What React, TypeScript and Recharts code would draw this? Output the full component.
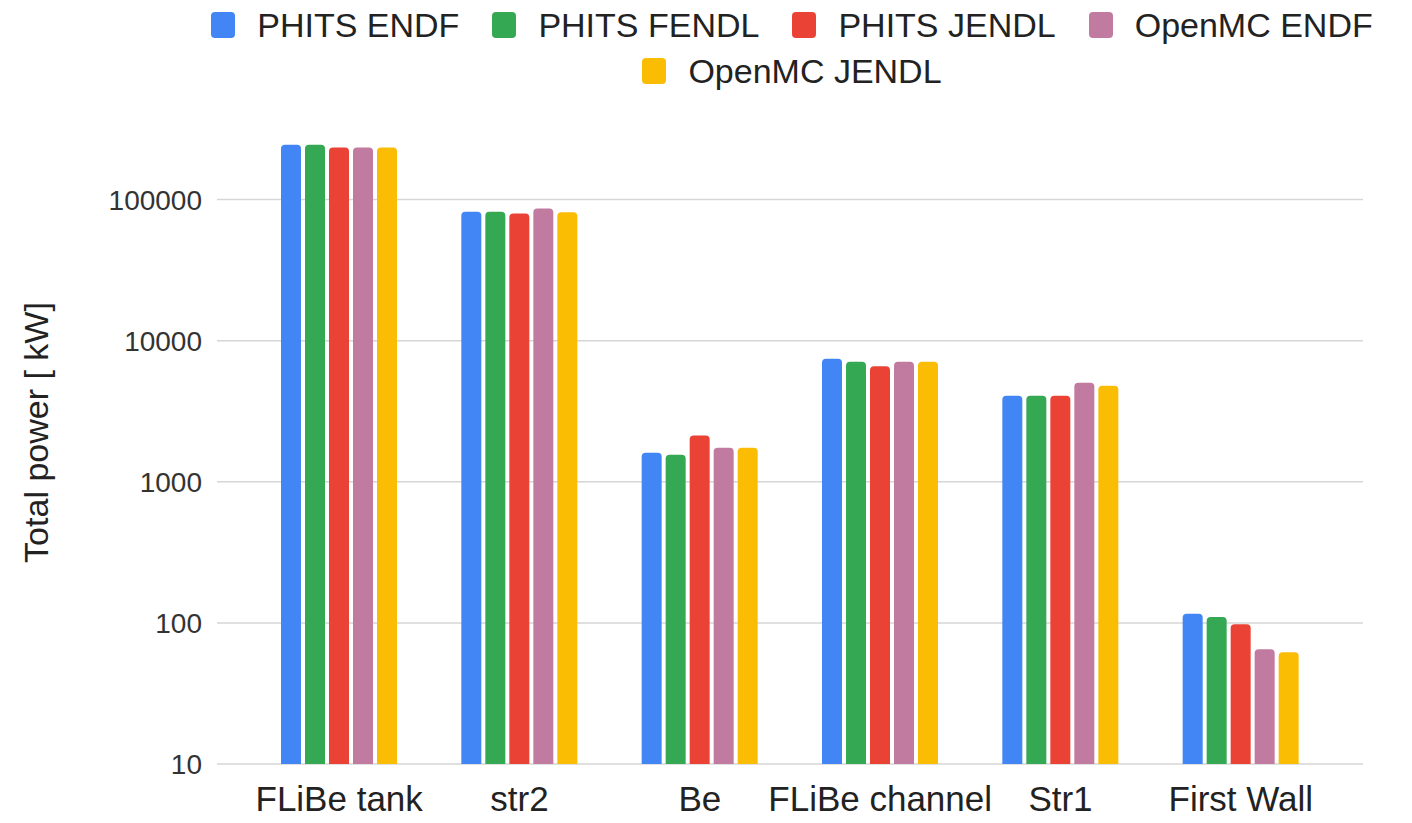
import { Bar, BarChart, CartesianGrid, XAxis, YAxis } from "recharts";

const CATEGORIES = ["FLiBe tank", "str2", "Be", "FLiBe channel", "Str1", "First Wall"];

const PHITS_ENDF = [245000, 82000, 1610, 7450, 4070, 116];
const PHITS_FENDL = [245000, 82000, 1555, 7100, 4070, 110];
const PHITS_JENDL = [234000, 79600, 2130, 6600, 4070, 98];
const OPENMC_ENDF = [234000, 86500, 1745, 7100, 5040, 65];
const OPENMC_JENDL = [234000, 81500, 1745, 7100, 4800, 62];

const Y_TICKS = [10, 100, 1000, 10000, 100000];
const Y_DOMAIN: [number, number] = [10, 500000];

const SERIES = [
  { key: "phitsEndf", name: "PHITS ENDF", color: "#4285F4", values: PHITS_ENDF },
  { key: "phitsFendl", name: "PHITS FENDL", color: "#34A853", values: PHITS_FENDL },
  { key: "phitsJendl", name: "PHITS JENDL", color: "#EA4335", values: PHITS_JENDL },
  { key: "openmcEndf", name: "OpenMC ENDF", color: "#C27BA0", values: OPENMC_ENDF },
  { key: "openmcJendl", name: "OpenMC JENDL", color: "#FBBC04", values: OPENMC_JENDL },
];

const FONT = '"Liberation Sans", Arial, sans-serif';

const data = CATEGORIES.map((name, i) => {
  const row: Record<string, string | number> = { name };
  SERIES.forEach((s) => {
    row[s.key] = s.values[i];
  });
  return row;
});

function YLabel({ viewBox }: any) {
  const cy = viewBox ? viewBox.y + viewBox.height / 2 : 435;
  return (
    <text
      x={48}
      y={cy}
      transform={`rotate(-90, 48, ${cy})`}
      textAnchor="middle"
      fontSize={34}
      fontFamily={FONT}
      fill="#222"
    >
      Total power [ kW]
    </text>
  );
}

function ChartLegend() {
  return (
    <div
      style={{
        position: "absolute",
        left: 192,
        top: 6,
        width: 1200,
        display: "flex",
        flexWrap: "wrap",
        justifyContent: "center",
        columnGap: 33,
        rowGap: 8,
        fontFamily: FONT,
        fontSize: 34,
        color: "#222",
        lineHeight: "38px",
      }}
    >
      {SERIES.map((s) => (
        <div key={s.key} style={{ display: "flex", alignItems: "center", gap: 22 }}>
          <span
            style={{
              display: "inline-block",
              width: 24,
              height: 26,
              borderRadius: 4,
              background: s.color,
            }}
          />
          <span>{s.name}</span>
        </div>
      ))}
    </div>
  );
}

// grid lines only at the labelled ticks (the default adds one at the top edge)
const gridRows = ({ offset }: any) => {
  const lo = Math.log10(Y_DOMAIN[0]);
  const hi = Math.log10(Y_DOMAIN[1]);
  return Y_TICKS.map((v) => offset.top + offset.height * (1 - (Math.log10(v) - lo) / (hi - lo)));
};

export default function App() {
  return (
    <div style={{ position: "absolute", left: 0, top: 0, width: 1412, height: 823, background: "#fff" }}>
      <ChartLegend />
      <BarChart
        width={1412}
        height={823}
        data={data}
        margin={{ top: 101, right: 49, left: 117, bottom: 0 }}
        barSize={20}
        barGap={4}
      >
        <CartesianGrid
          vertical={false}
          stroke="#d6d6d6"
          strokeWidth={1.5}
          horizontalCoordinatesGenerator={gridRows}
        />
        <XAxis
          dataKey="name"
          interval={0}
          tickLine={false}
          axisLine={false}
          tickSize={0}
          tickMargin={22}
          height={59}
          padding={{ left: 32, right: 32 }}
          tick={{ fontSize: 35, fontFamily: FONT, fill: "#222" }}
        />
        <YAxis
          scale="log"
          domain={Y_DOMAIN}
          ticks={Y_TICKS}
          allowDataOverflow
          width={100}
          tickLine={false}
          axisLine={false}
          tickSize={0}
          tickMargin={15}
          tick={{ fontSize: 28, fontFamily: FONT, fill: "#333" }}
          label={<YLabel />}
        />
        {SERIES.map((s) => (
          <Bar
            key={s.key}
            dataKey={s.key}
            name={s.name}
            fill={s.color}
            radius={[4, 4, 0, 0]}
            isAnimationActive={false}
          />
        ))}
      </BarChart>
    </div>
  );
}
